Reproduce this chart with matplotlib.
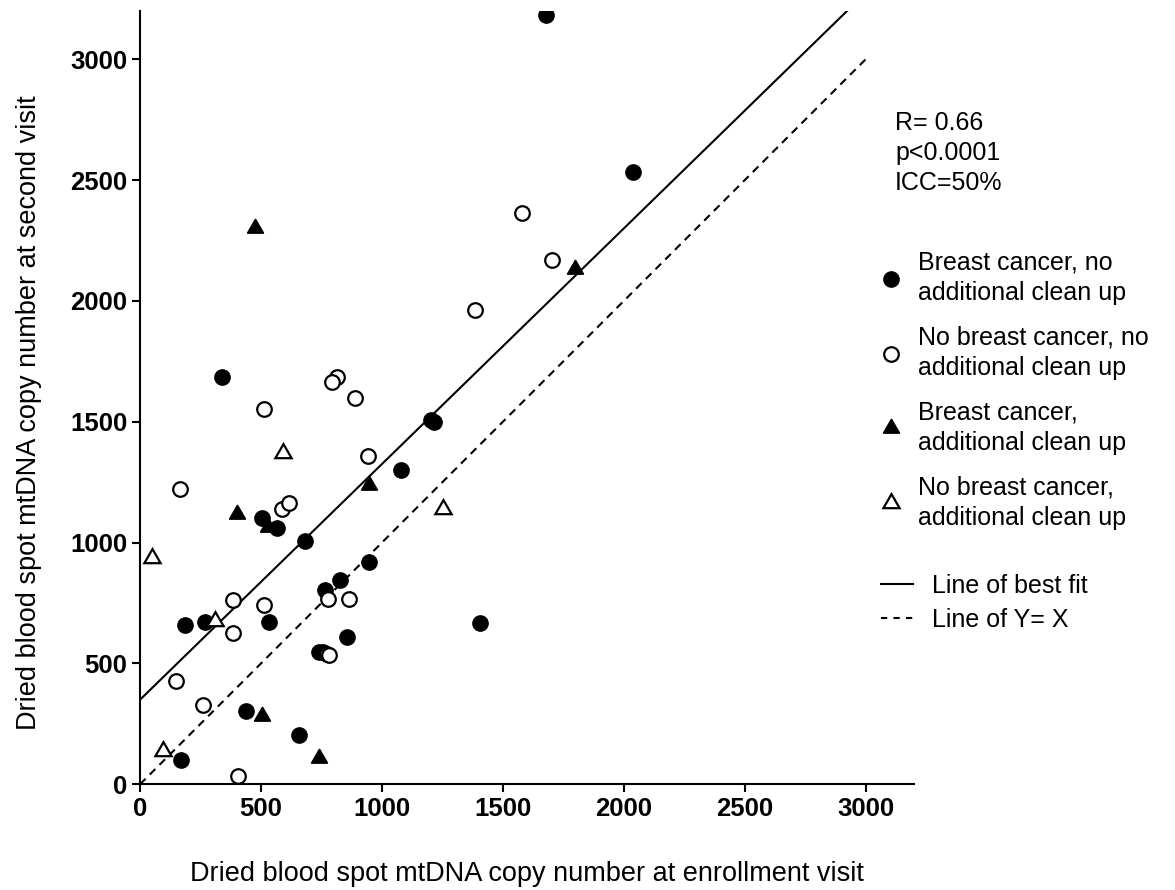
import matplotlib
matplotlib.use("Agg")
import matplotlib.pyplot as plt
from matplotlib.lines import Line2D

plt.rcParams['font.family'] = ['Liberation Sans', 'DejaVu Sans']

# breast cancer, no additional clean up (filled circles)
bc_x = [1678, 2040, 338, 1205, 1215, 1078, 503, 565, 682, 948, 827, 765,
        186, 269, 535, 857, 738, 755, 1406, 437, 659, 168]
bc_y = [3183, 2535, 1687, 1507, 1500, 1300, 1104, 1062, 1007, 921, 845, 803,
        658, 672, 672, 610, 548, 548, 668, 305, 202, 101]

# no breast cancer, no additional clean up (open circles)
nbc_x = [1578, 1703, 1385, 813, 793, 889, 514, 941, 165, 586, 617, 776,
         866, 383, 514, 383, 772, 782, 148, 262, 407]
nbc_y = [2366, 2171, 1961, 1687, 1664, 1597, 1553, 1359, 1224, 1141, 1162, 765,
         765, 761, 740, 626, 541, 536, 429, 329, 36]

# breast cancer, additional clean up (filled triangles)
bcc_x = [475, 1799, 947, 402, 528, 506, 740]
bcc_y = [2300, 2134, 1238, 1117, 1065, 283, 108]

# no breast cancer, additional clean up (open triangles)
nbcc_x = [590, 1254, 48, 310, 96]
nbcc_y = [1373, 1141, 935, 675, 139]

fit_intercept = 350
fit_slope = 0.975
line_x = [0, 3000]

stats_text = "R= 0.66\np<0.0001\nICC=50%"
ticks = [0, 500, 1000, 1500, 2000, 2500, 3000]

fig = plt.figure(figsize=(11.75, 8.9), dpi=100)
W, H = 1175, 890
ax = fig.add_axes([140 / W, 1 - 784.3 / H, (914 - 140) / W, (784.3 - 11) / H])

tri = (3, 0, 0)
dash = (0, (3.8, 2.8))

ax.plot(line_x, [fit_intercept + fit_slope * x for x in line_x],
        color='black', lw=1.5, zorder=2)
ax.plot(line_x, line_x, color='black', lw=1.5, ls=dash, zorder=2)

filled_c = dict(marker='o', ls='none', ms=11, mfc='black', mec='black', mew=1)
open_c = dict(marker='o', ls='none', ms=10.5, mfc='white', mec='black', mew=1.6)
filled_t = dict(marker=tri, ls='none', ms=13.5, mfc='black', mec='black', mew=1)
open_t = dict(marker=tri, ls='none', ms=13.5, mfc='white', mec='black', mew=1.6)

ax.plot(bc_x, bc_y, zorder=3, **filled_c)
ax.plot(nbc_x, nbc_y, zorder=3, **open_c)
ax.plot(bcc_x, bcc_y, zorder=3, **filled_t)
ax.plot(nbcc_x, nbcc_y, zorder=3, **open_t)

ax.set_xlim(0, 3200)
ax.set_ylim(0, 3200)
ax.set_xticks(ticks)
ax.set_yticks(ticks)
ax.tick_params(width=1.5, length=6, labelsize=18.5, pad=3)
for lab in ax.get_xticklabels() + ax.get_yticklabels():
    lab.set_fontweight('bold')
for s in ['top', 'right']:
    ax.spines[s].set_visible(False)
for s in ['left', 'bottom']:
    ax.spines[s].set_linewidth(1.5)

ax.set_xlabel("Dried blood spot mtDNA copy number at enrollment visit",
              fontsize=19.5, labelpad=29)
ax.set_ylabel("Dried blood spot mtDNA copy number at second visit",
              fontsize=19.5)
ax.yaxis.set_label_coords(-0.1266, 0.481)

fig.text(895 / W, 1 - 111 / H, stats_text, fontsize=18, va='top', ha='left',
         linespacing=1.32)

h1 = [Line2D([], [], **filled_c), Line2D([], [], **open_c),
      Line2D([], [], **filled_t), Line2D([], [], **open_t)]
l1 = ["Breast cancer, no\nadditional clean up",
      "No breast cancer, no\nadditional clean up",
      "Breast cancer,\nadditional clean up",
      "No breast cancer,\nadditional clean up"]
leg1 = fig.legend(h1, l1, loc='upper left', bbox_to_anchor=(878 / W, 1 - 251 / H),
                  frameon=False, fontsize=18, handlelength=1.0, handletextpad=0.6,
                  labelspacing=0.83, borderpad=0, borderaxespad=0)
for t in leg1.get_texts():
    t.set_linespacing(1.32)

h2 = [Line2D([], [], color='black', lw=1.5),
      Line2D([], [], color='black', lw=1.5, ls=(0, (3, 3)))]
l2 = ["Line of best fit", "Line of Y= X"]
leg2 = fig.legend(h2, l2, loc='upper left', bbox_to_anchor=(881 / W, 1 - 574 / H),
                  frameon=False, fontsize=18, handlelength=1.28, handletextpad=0.76,
                  labelspacing=0.4, borderpad=0, borderaxespad=0)

fig.savefig("out.png", dpi=100)
